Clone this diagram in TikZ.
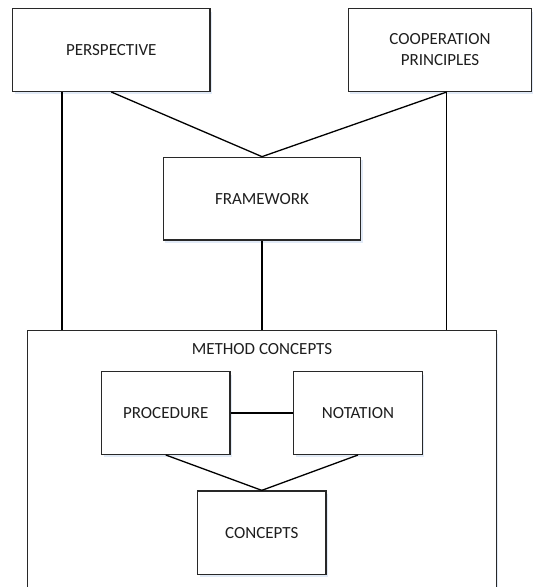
\documentclass[tikz,border=0pt]{standalone}
\usepackage{fontspec}
\setmainfont{Carlito}
\usetikzlibrary{shadows}
\definecolor{edge}{RGB}{40,40,40}
\definecolor{ink}{RGB}{30,30,30}
\definecolor{shade}{RGB}{222,232,246}
\tikzset{
  box/.style={draw=edge, line width=1.4pt, fill=white, inner sep=0pt,
    align=center, text=ink, font=\fontsize{17}{21}\selectfont,
    drop shadow={shadow xshift=2pt, shadow yshift=-3pt, fill=shade, opacity=0.9}},
  link/.style={draw=black, line width=1.3pt}
}
\begin{document}
\begin{tikzpicture}[x=1pt, y=-1pt]
\useasboundingbox (0,0) rectangle (533,587);
\clip (0,0) rectangle (533,587);

% outer container, running past the lower edge
\node[box, minimum width=468.6pt, minimum height=289.3pt] (method) at (262,475.35) {};
\node[text=ink, font=\fontsize{17}{21}\selectfont, anchor=center] (methodlabel) at (262,349) {METHOD CONCEPTS};

% upper level
\node[box, minimum width=197.3pt, minimum height=82.6pt] (persp) at (111.3,50) {PERSPECTIVE};
\node[box, minimum width=183.4pt, minimum height=82.6pt] (coop) at (440,50) {COOPERATION\\PRINCIPLES};
\node[box, minimum width=197.4pt, minimum height=82.7pt] (frame) at (262,198.7) {FRAMEWORK};

% inner level
\node[box, minimum width=128.3pt, minimum height=82.6pt] (proc) at (165.8,413) {PROCEDURE};
\node[box, minimum width=128.6pt, minimum height=82.6pt] (nota) at (358,413) {NOTATION};
\node[box, minimum width=128.3pt, minimum height=83.3pt] (conc) at (261.8,532.7) {CONCEPTS};

% x positions of the two long verticals
\coordinate (pl) at (62,0);
\coordinate (cl) at (446.7,0);

% connectors
\draw[link] (persp.south -| pl) -- (method.north -| pl);
\draw[link] (coop.south -| cl) -- (method.north -| cl);
\draw[link] (persp.south) -- (frame.north);
\draw[link] (coop.south -| cl) -- (frame.north);
\draw[link] (frame.south) -- (method.north);
\draw[link] (proc.east) -- (nota.west);
\draw[link] (proc.south) -- (conc.north);
\draw[link] (nota.south) -- (conc.north);
\end{tikzpicture}
\end{document}
